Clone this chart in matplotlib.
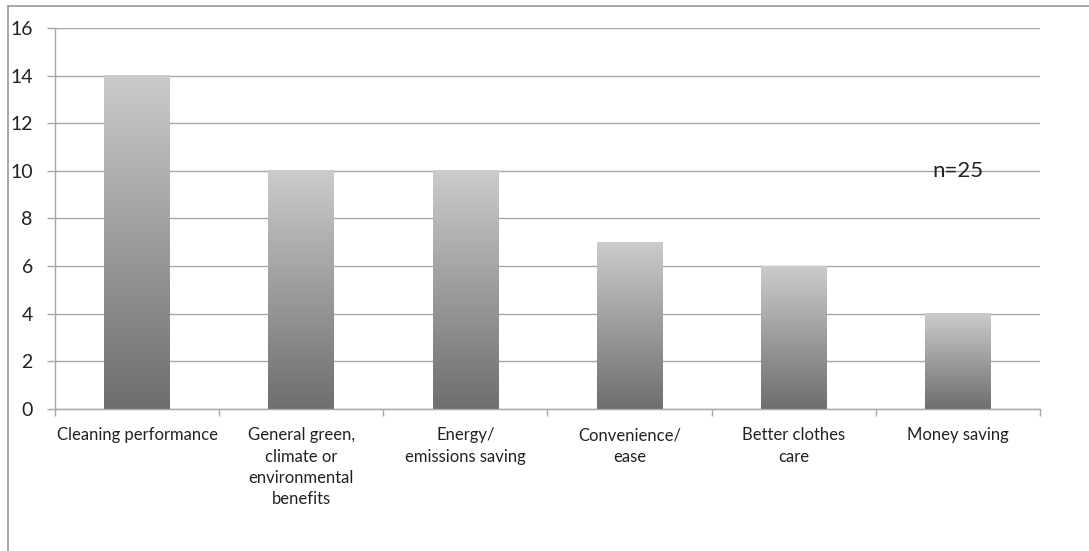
import matplotlib.pyplot as plt
import numpy as np
from matplotlib.colors import LinearSegmentedColormap
from matplotlib.lines import Line2D

# Chart data
categories = ["Cleaning performance",
              "General green,\nclimate or\nenvironmental\nbenefits",
              "Energy/\nemissions saving",
              "Convenience/\nease",
              "Better clothes\ncare",
              "Money saving"]
counts = [14, 10, 10, 7, 6, 4]
y_ticks = [0, 2, 4, 6, 8, 10, 12, 14, 16]
note_text = "n=25"

plt.rcParams['font.family'] = ['Lato', 'DejaVu Sans']

fig = plt.figure(figsize=(10.89, 5.51), dpi=100)
ax = fig.add_axes([0.0505, 0.2577, 0.9045, 0.6915])

# grey gradient, light at top, dark at bottom
grad_cmap = LinearSegmentedColormap.from_list("bargrad", ["#6e6e6e", "#cbcbcb"])
grad = np.linspace(0, 1, 256).reshape(-1, 1)

bar_w = 0.4
x = np.arange(len(categories))
for xi, h in zip(x, counts):
    ax.imshow(grad, cmap=grad_cmap, origin="lower", aspect="auto",
              extent=(xi - bar_w / 2, xi + bar_w / 2, 0, h), zorder=2,
              interpolation="bilinear")

ax.set_xlim(-0.5, len(categories) - 0.5)
ax.set_ylim(0, 16)

# gridlines
ax.set_yticks(y_ticks)
ax.yaxis.grid(True, color="#a6a6a6", linewidth=1.0)
ax.set_axisbelow(True)
ax.tick_params(axis="y", length=6, width=1.0, color="#a6a6a6", pad=10,
               labelsize=14, labelcolor="#222222")

# category ticks at boundaries, labels at centres
ax.set_xticks(np.arange(len(categories) + 1) - 0.5)
ax.set_xticklabels([])
ax.set_xticks(x, minor=True)
ax.set_xticklabels(categories, minor=True, fontsize=12, color="#222222",
                   linespacing=1.42, va="top")
ax.tick_params(axis="x", which="major", length=5, width=1.0, color="#a6a6a6")
ax.tick_params(axis="x", which="minor", length=0, pad=13)

for side in ["top", "right"]:
    ax.spines[side].set_visible(False)
for side in ["left", "bottom"]:
    ax.spines[side].set_color("#a6a6a6")
    ax.spines[side].set_linewidth(1.0)

ax.text(5.0, 10, note_text, ha="center", va="center", fontsize=16,
        color="#222222", zorder=3)

# outer frame (top and left edges)
fig.add_artist(Line2D([0.0075, 1.0], [0.989, 0.989], color="#999999", linewidth=1.2))
fig.add_artist(Line2D([0.0075, 0.0075], [0.0, 0.989], color="#999999", linewidth=1.2))

fig.savefig("out.png", dpi=100)
